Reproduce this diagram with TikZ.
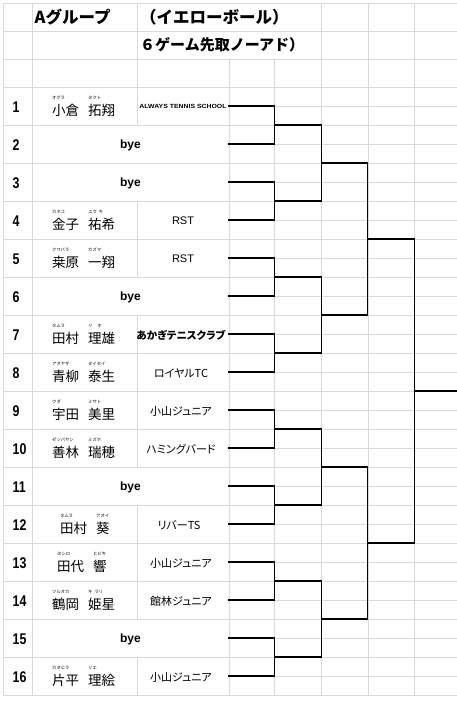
\documentclass[tikz,border=0pt]{standalone}
\usepackage{fontspec}
\setmainfont{Liberation Sans}
\newfontfamily\jp{Noto Sans CJK JP}
\newfontfamily\jpp{Noto Sans CJK JP}[RawFeature={+palt}]
\newfontfamily\numf{Liberation Sans}[FakeStretch=0.8]
\newfontfamily\widef{Liberation Sans}[FakeStretch=1.15]
\definecolor{gridc}{HTML}{D9D9D9}
\newcommand\plyr[8]{%
  \node[nm] (f#1) at (#3,#2+4) {#4};
  \node[furi] (ff#1) at (#3,#2-8) {#5};
  \node[nm] (g#1) at (#6,#2+4) {#7};
  \node[furi] (fg#1) at (#6,#2-8) {#8};}
\begin{document}
\begin{tikzpicture}[x=1pt,y=-1pt,
  gridl/.style={draw=gridc,line width=0.8pt},
  brk/.style={draw=black,line width=1.2pt,line cap=rect},
  num/.style={font=\numf\bfseries\fontsize{15.5}{15}\selectfont,inner sep=0pt,anchor=base west},
  nm/.style={font=\jp\fontsize{13.5}{14}\selectfont,inner sep=0pt,anchor=west},
  furi/.style={font=\jp\fontsize{4.3}{5}\selectfont,inner sep=0pt,anchor=west},
  club/.style={font=\jpp\fontsize{11}{12}\selectfont,inner sep=0pt},
  clubb/.style={font=\jpp\bfseries\fontsize{10.5}{12}\selectfont,inner sep=0pt},
  latclub/.style={font=\fontsize{11}{12}\selectfont,inner sep=0pt},
  byet/.style={font=\bfseries\fontsize{12}{12}\selectfont,inner sep=0pt},
  ttl/.style={font=\jp\bfseries\fontsize{15}{16}\selectfont,inner sep=0pt,anchor=west},
  ttlb/.style={ttl,font=\jp\bfseries\fontsize{16.5}{17}\selectfont}]
\fill[white] (0,0) rectangle (457,702);
\useasboundingbox (0,0) rectangle (457,702);
% grid
\foreach \y in {3,31,59} \draw[gridl] (3,\y) -- (457,\y);
\foreach \k in {0,...,16} \draw[gridl] (3,{87+38*\k}) -- (457,{87+38*\k});
\foreach \k in {0,...,15} \draw[gridl] (229,{106+38*\k}) -- (457,{106+38*\k});
\foreach \x in {3,32,321.5,368,414.5} \draw[gridl] (\x,3) -- (\x,695);
\foreach \x in {229,274.5} \draw[gridl] (\x,59) -- (\x,695);
\draw[gridl] (137,3) -- (137,87);
\foreach \i in {1,4,5,7,8,9,10,12,13,14,16} \draw[gridl] (137,{87+38*(\i-1)}) -- (137,{125+38*(\i-1)});
% titles
\node[ttlb] (t1) at (34.5,17) {Aグループ};
\node[ttlb] (t2) at (140,17) {（イエローボール）};
\node[ttl] (t3) at (140,45) {６ゲーム先取ノーアド）};
% numbers
\foreach \i in {1,...,16} \node[num] (n\i) at (12.5,{112.7+38*(\i-1)}) {\i};
% players
\plyr{1}{106}{52}{小倉}{オグラ}{88}{拓翔}{タクト}
\plyr{4}{220}{52}{金子}{カネコ}{88}{祐希}{ユウ\hspace{2pt}キ}
\plyr{5}{258}{52}{桒原}{クワバラ}{88}{一翔}{カズマ}
\plyr{7}{334}{52}{田村}{タムラ}{88}{理雄}{リ\hspace{5pt}オ}
\plyr{8}{372}{52}{青柳}{アオヤギ}{88}{泰生}{タイセイ}
\plyr{9}{410}{52}{宇田}{ウダ}{88}{美里}{ミサト}
\plyr{10}{448}{52}{善林}{ゼンバヤシ}{88}{瑞穂}{ミズホ}
\plyr{12}{524}{60}{田村}{タムラ}{96}{葵}{アオイ}
\plyr{13}{562}{57}{田代}{タシロ}{93}{響}{ヒビキ}
\plyr{14}{600}{52}{鶴岡}{ツルオカ}{88}{姫星}{キ\hspace{2pt}ラリ}
\plyr{16}{676}{52}{片平}{カタヒラ}{88}{理絵}{リエ}
% byes
\foreach \i in {2,3,6,11,15} \node[byet] (bye\i) at (130.5,{107.5+38*(\i-1)}) {bye};
% clubs
\node[inner sep=0pt,font=\widef\bfseries\fontsize{6}{7}\selectfont] (c1) at (183,106) {ALWAYS TENNIS SCHOOL};
\node[latclub] (c4) at (183,221) {RST};
\node[latclub] (c5) at (183,259) {RST};
\node[clubb] (c7) at (181,335) {あかぎテニスクラブ};
\node[club] (c8) at (181,373) {ロイヤルTC};
\node[club] (c9) at (181,411) {小山ジュニア};
\node[club] (c10) at (181,449) {ハミングバード};
\node[club] (c12) at (179,525) {リバーTS};
\node[club] (c13) at (181,563) {小山ジュニア};
\node[club] (c14) at (181,601) {館林ジュニア};
\node[club] (c16) at (181,677) {小山ジュニア};
% bracket
\foreach \i in {1,...,16} \coordinate (s\i) at (229,{106+38*(\i-1)});
\foreach \j in {1,...,8} \coordinate (a\j) at (274.5,{125+76*(\j-1)});
\foreach \j in {1,...,4} \coordinate (b\j) at (321.5,{163+152*(\j-1)});
\foreach \j in {1,2} \coordinate (c\j) at (367.5,{239+304*(\j-1)});
\coordinate (d1) at (414.5,391);
\coordinate (fin) at (457,391);
\foreach \j in {1,...,8} {
  \pgfmathtruncatemacro\ta{2*\j-1}
  \pgfmathtruncatemacro\tb{2*\j}
  \draw[brk] (s\ta) -| (a\j) |- (s\tb);}
\foreach \j in {1,...,4} {
  \pgfmathtruncatemacro\ta{2*\j-1}
  \pgfmathtruncatemacro\tb{2*\j}
  \draw[brk] (a\ta) -| (b\j) |- (a\tb);}
\draw[brk] (b1) -| (c1) |- (b2);
\draw[brk] (b3) -| (c2) |- (b4);
\draw[brk] (c1) -| (d1) |- (c2);
\draw[brk] (d1) -- (fin);
\end{tikzpicture}
\end{document}
